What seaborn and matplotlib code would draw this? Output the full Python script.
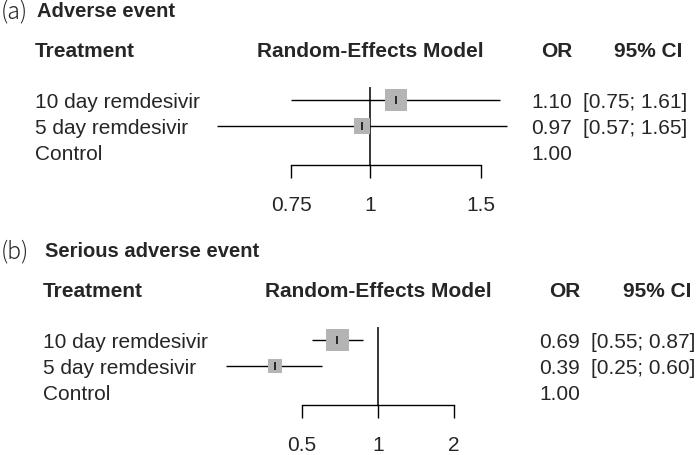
import numpy as np
import matplotlib
matplotlib.use("Agg")
import matplotlib.pyplot as plt
import seaborn as sns

# data
treatments = ["10 day remdesivir", "5 day remdesivir", "Control"]

ae_or = [1.10, 0.97, 1.00]
ae_lower = [0.75, 0.57]
ae_upper = [1.61, 1.65]
ae_weight = [1.00, 0.53]          # relative box area
ae_ticks = [0.75, 1, 1.5]
ae_tick_labels = ["0.75", "1", "1.5"]

sae_or = [0.69, 0.39, 1.00]
sae_lower = [0.55, 0.25]
sae_upper = [0.87, 0.60]
sae_weight = [1.00, 0.38]
sae_ticks = [0.5, 1, 2]
sae_tick_labels = ["0.5", "1", "2"]

sns.set_style("white")
plt.rcParams["font.family"] = ["Liberation Sans", "DejaVu Sans"]

W, H = 700, 455
fig = plt.figure(figsize=(7, 4.55), dpi=100)

FS = 15
ROW_PX = 26


def put(x, y, s, **kw):
    # place text with pixel coordinates measured from the top-left corner
    kw.setdefault("fontsize", FS)
    kw.setdefault("va", "baseline")
    fig.text(x / W, 1 - y / H, s, **kw)


def panel(letter, title, top, x0, ref_px, px_per_ln, ors, lo, hi, wt,
          ticks, tick_labels, or_right, ci_left, ci_head):
    # title and header row
    put(1, top + 18, letter, fontsize=16.5, family=["Noto Sans CJK JP", "DejaVu Sans"],
        fontweight="light", color="#222222")
    put(x0 + 2, top + 17, title, fontsize=14.5, fontweight="bold")
    put(x0, top + 57, "Treatment", fontweight="bold")
    put(ref_px, top + 57, "Random-Effects Model", fontweight="bold", ha="center")
    put(or_right, top + 57, "OR", fontweight="bold", ha="right")
    put(ci_head, top + 57, "95% CI", fontweight="bold", ha="center")

    row0 = top + 100
    for i, name in enumerate(treatments):
        yb = row0 + i * ROW_PX + 8
        put(x0, yb, name)
        put(or_right, yb, f"{ors[i]:.2f}", ha="right")
        if i < len(lo):
            put(ci_left, yb, f"[{lo[i]:.2f}; {hi[i]:.2f}]")

    # forest axes positioned in pixels
    left, right, atop, abot = 200, 530, top + 75, top + 230
    ax = fig.add_axes([left / W, 1 - abot / H, (right - left) / W, (abot - atop) / H])
    ax.patch.set_alpha(0)
    ax.set_xscale("log")
    ax.set_xlim(np.exp((left - ref_px) / px_per_ln), np.exp((right - ref_px) / px_per_ln))
    ax.set_ylim((abot - row0) / ROW_PX, (atop - row0) / ROW_PX)

    rows = np.arange(len(lo))
    ax.hlines(rows, lo, hi, color="black", lw=1.0, zorder=2)
    ax.vlines(1, -0.5, 2.5, color="black", lw=1.1, zorder=1)
    sns.scatterplot(x=ors[:len(lo)], y=rows, marker="s", s=np.array(wt) * 260,
                    color="#b4b4b4", edgecolor="none", linewidth=0, ax=ax, zorder=3)
    sns.scatterplot(x=ors[:len(lo)], y=rows, marker="|", s=28, color="black",
                    linewidth=1.1, ax=ax, zorder=4)

    for side in ["top", "right", "left"]:
        ax.spines[side].set_visible(False)
    ax.spines["bottom"].set_position(("data", 2.5))
    ax.spines["bottom"].set_bounds(ticks[0], ticks[-1])
    ax.spines["bottom"].set_linewidth(1.0)
    ax.spines["bottom"].set_color("black")
    ax.set_xticks(ticks)
    ax.set_xticklabels(tick_labels)
    ax.xaxis.set_minor_locator(matplotlib.ticker.NullLocator())
    ax.tick_params(axis="x", bottom=True, direction="out", length=9.5, width=1.0,
                   color="black", labelsize=FS, pad=13)
    ax.set_yticks([])
    ax.set_xlabel("")
    ax.set_ylabel("")
    return ax


panel("(a)", "Adverse event", 0, 35, 370, 273, ae_or, ae_lower, ae_upper, ae_weight,
      ae_ticks, ae_tick_labels, 572, 583, 648)
panel("(b)", "Serious adverse event", 240, 43, 378, 109.6, sae_or, sae_lower, sae_upper,
      sae_weight, sae_ticks, sae_tick_labels, 580, 591, 657)

fig.savefig("out.png", dpi=100)
